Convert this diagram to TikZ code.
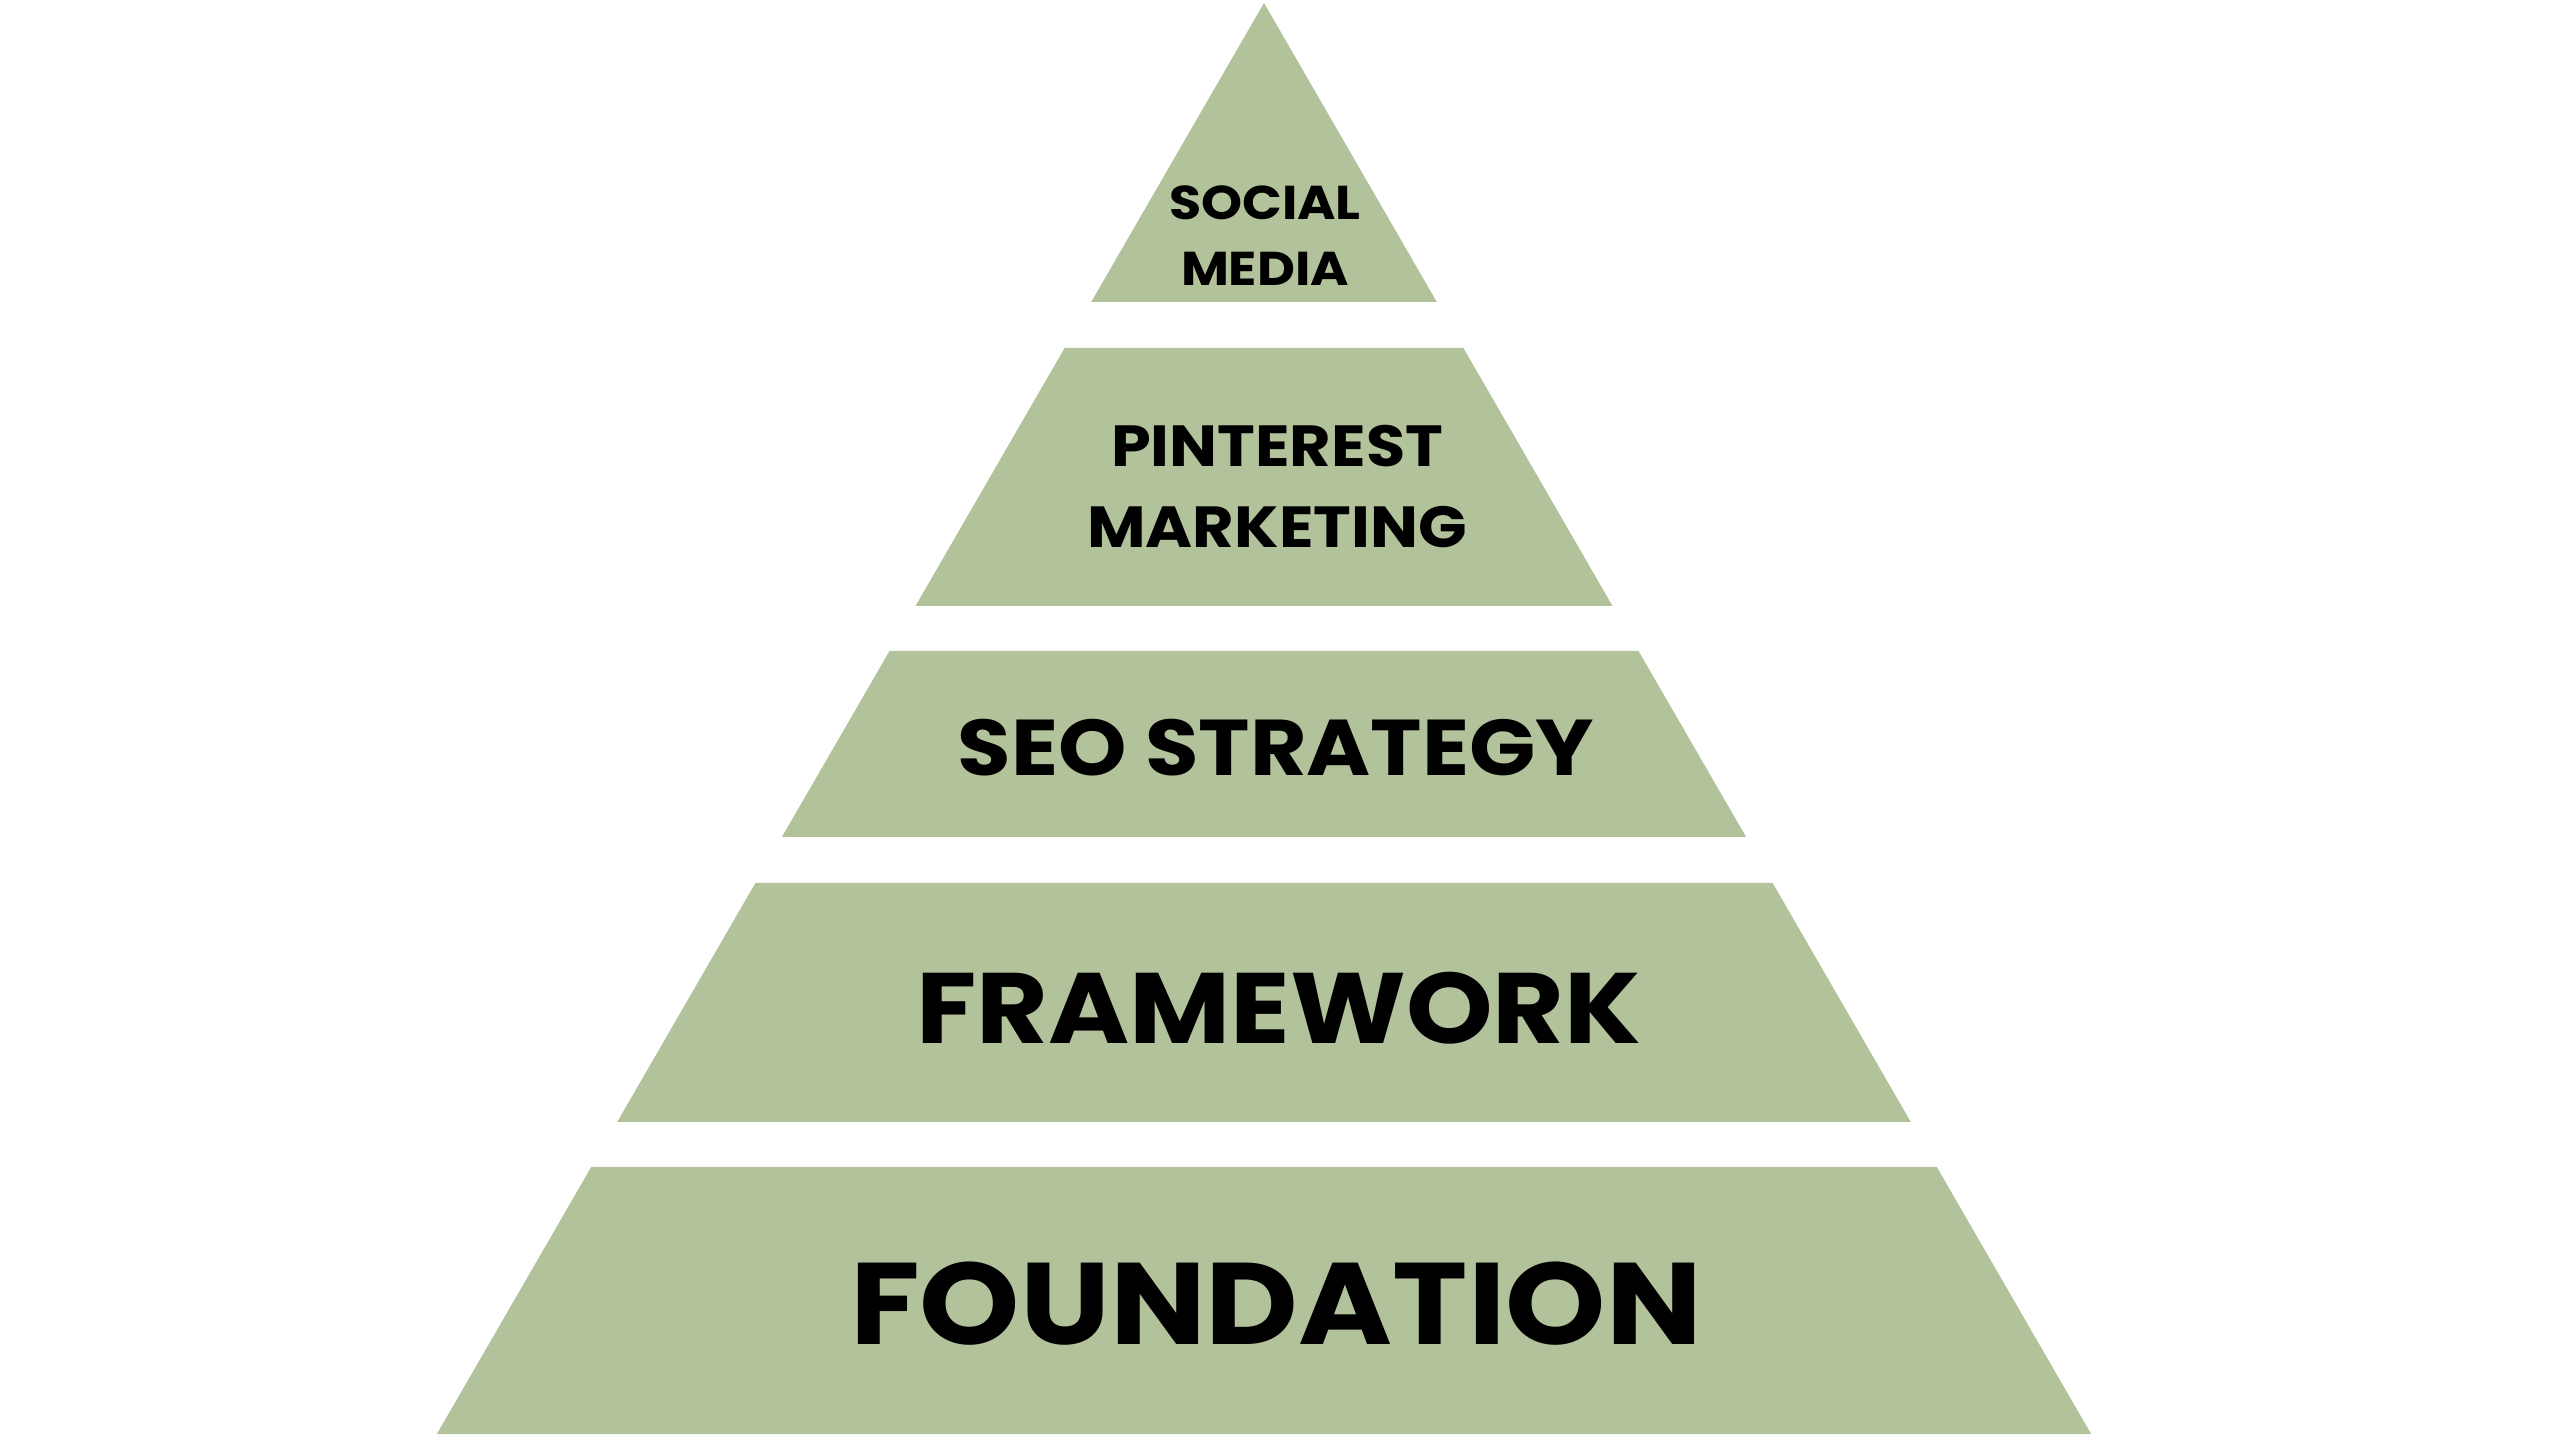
\documentclass[tikz,border=0pt]{standalone}
\usepackage{fontspec}
\setmainfont{Poppins}[FakeStretch=1.1]
\usepackage{tikz}
\usetikzlibrary{calc,positioning}
\definecolor{sage}{RGB}{178,194,154}

\tikzset{
	tier/.style={fill=sage, draw=none},
	tierlabel/.style={align=center, inner sep=0pt, text=black}
}

\begin{document}
\begin{tikzpicture}
	\useasboundingbox (0,0) rectangle (25.6,14.4);

	% Tiers of the pyramid, from top to bottom
	\fill[tier] (12.64, 14.37) -- (14.368, 11.38) -- (10.912, 11.38) -- cycle;
	\fill[tier] (10.646, 10.92) -- (14.634, 10.92) -- (16.125, 8.34) -- (9.155, 8.34) -- cycle;
	\fill[tier] (8.895, 7.89) -- (16.385, 7.89) -- (17.461, 6.03) -- (7.819, 6.03) -- cycle;
	\fill[tier] (7.554, 5.57) -- (17.726, 5.57) -- (19.108, 3.18) -- (6.172, 3.18) -- cycle;
	\fill[tier] (5.912, 2.73) -- (19.368, 2.73) -- (20.911, 0.06) -- (4.369, 0.06) -- cycle;

	% Labels
	\node[tierlabel, font=\bfseries\fontsize{13.5}{18.8}\selectfont] (social) at (12.65, 12.04) {SOCIAL\\MEDIA};
	\node[tierlabel, font=\bfseries\fontsize{16.5}{23}\selectfont] (pinterest) at (12.77, 9.535) {PINTEREST\\MARKETING};
	\node[tierlabel, font=\bfseries\fontsize{22.5}{28}\selectfont] (seo) at (12.76, 6.92) {SEO STRATEGY};
	\node[tierlabel, font=\bfseries\fontsize{28.5}{32}\selectfont] (framework) at (12.79, 4.32) {FRAMEWORK};
	\node[tierlabel, font=\bfseries\fontsize{33}{40}\selectfont] (foundation) at (12.76, 1.36) {FOUNDATION};
\end{tikzpicture}
\end{document}
